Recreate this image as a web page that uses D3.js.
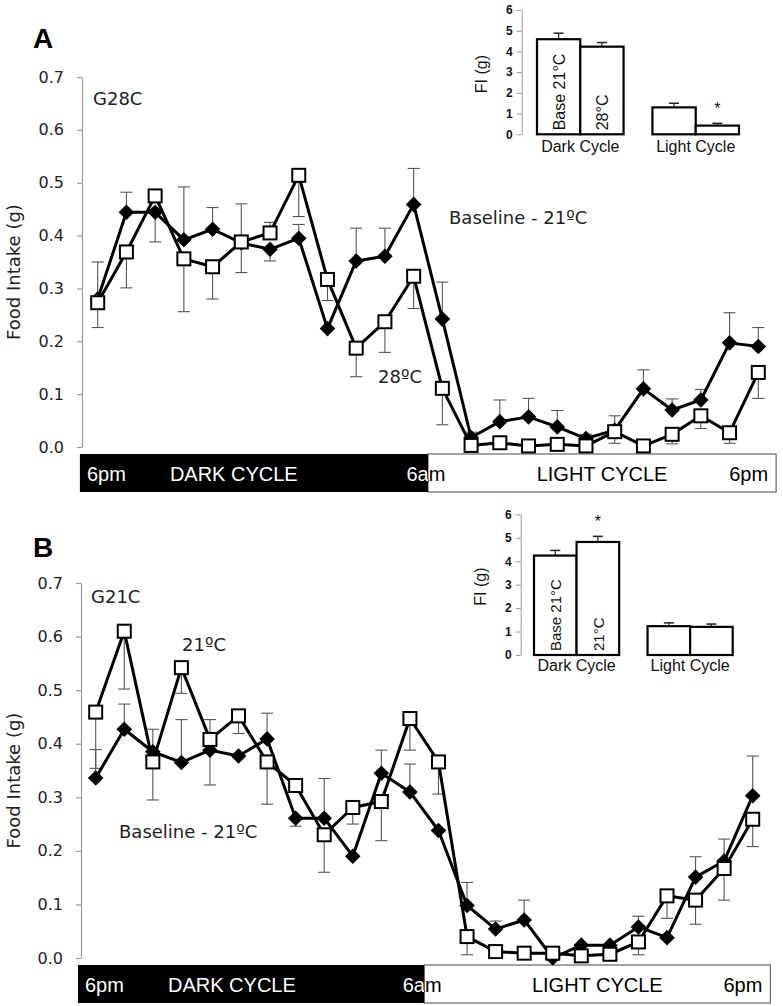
<!DOCTYPE html>
<html><head><meta charset="utf-8">
<script src="https://cdn.jsdelivr.net/npm/d3@7"></script>
<style>body{margin:0;background:#fff;} svg{display:block}</style>
</head><body>
<svg id="c" width="783" height="1006"></svg>
<script>
// ---------------- DATA ----------------
const hours = d3.range(24);             // 24 hourly bins starting at 6pm
const yTicks = [0, 0.1, 0.2, 0.3, 0.4, 0.5, 0.6, 0.7];
const insetTicks = [0, 1, 2, 3, 4, 5, 6];
const cycleLabels = ["6pm", "DARK CYCLE", "6am", "LIGHT CYCLE", "6pm"];
const insetGroups = ["Dark Cycle", "Light Cycle"];

// Panel A (G28C): baseline 21ºC (diamonds) vs 28ºC (squares)
const baseA     = [0.28,0.444,0.444,0.392,0.412,0.386,0.374,0.395,0.224,0.352,0.361,0.459,0.242,0.018,0.048,0.057,0.038,0.016,0.032,0.110,0.070,0.089,0.197,0.190];
const baseAUp   = [0.07,0.038,0,0.10,0.041,0.074,0,0.026,0,0.062,0.053,0.068,0.07,0.01,0.041,0.035,0.031,0.008,0,0.036,0.021,0.02,0.057,0.036];
const baseADown = [0,0,0.056,0,0,0,0.022,0,0,0,0,0,0,0,0,0,0,0,0,0,0,0,0,0];
const tempA     = [0.273,0.369,0.475,0.356,0.341,0.388,0.405,0.514,0.317,0.187,0.237,0.323,0.111,0.003,0.008,0.002,0.005,0.002,0.029,0.002,0.024,0.059,0.027,0.141];
const tempAUp   = [0,0,0,0,0,0,0.02,0,0,0,0,0,0,0,0,0,0,0,0.03,0,0,0,0,0];
const tempADown = [0.047,0.068,0,0.1,0.061,0.058,0,0.078,0.04,0.054,0.058,0.061,0.069,0,0,0,0,0,0.022,0,0.018,0.024,0.02,0.049];

// Panel B (G21C): baseline 21ºC (diamonds) vs 21ºC (squares)
const baseB     = [0.336,0.427,0.385,0.365,0.388,0.377,0.409,0.261,0.261,0.190,0.345,0.310,0.238,0.098,0.054,0.071,0.0,0.024,0.024,0.058,0.038,0.151,0.181,0.303];
const baseBUp   = [0.053,0.047,0.042,0.08,0,0,0.048,0,0.074,0,0.043,0.052,0,0.043,0.015,0.037,0,0,0,0.02,0,0.038,0.041,0.074];
const baseBDown = [0,0,0,0,0.065,0,0,0.015,0,0,0,0,0,0,0,0,0,0,0,0,0,0,0,0];
const tempB     = [0.459,0.610,0.366,0.542,0.408,0.452,0.366,0.322,0.230,0.281,0.292,0.447,0.366,0.040,0.012,0.009,0.009,0.004,0.007,0.030,0.116,0.108,0.167,0.259];
const tempBUp   = [0,0,0,0,0.037,0,0,0,0,0,0,0,0,0,0,0,0,0,0,0,0,0,0,0];
const tempBDown = [0.105,0.108,0.071,0.048,0,0.033,0.079,0,0.07,0.031,0.073,0.059,0.06,0.034,0,0,0,0,0,0.024,0.042,0.045,0.059,0.051];

// Insets: total food intake (g)
const insetABase = [4.59, 1.30], insetABaseErr = [0.29, 0.20];
const insetATemp = [4.23, 0.42], insetATempErr = [0.20, 0.11];
const insetASig  = [false, true];
const insetALabels = ["Base 21°C", "28°C"];
const insetBBase = [4.24, 1.23], insetBBaseErr = [0.22, 0.14];
const insetBTemp = [4.82, 1.20], insetBTempErr = [0.24, 0.12];
const insetBSig  = [true, false];
const insetBLabels = ["Base 21°C", "21°C"];

// ---------------- DRAW ----------------
const svg = d3.select("#c");
const MAINFONT = "'DejaVu Sans', sans-serif";
const ARIAL = "'Liberation Sans', Arial, sans-serif";

function drawPanel(cfg) {
  const g = svg.append("g");
  const x = d3.scalePoint().domain(hours).range([cfg.x0, cfg.x1]);
  const y = d3.scaleLinear().domain([0, 0.7]).range([cfg.yb, cfg.yt]);
  const step = x.step();

  // panel letter
  g.append("text").attr("x", 33).attr("y", cfg.letterY).text(cfg.letter)
    .attr("font-family", ARIAL).attr("font-weight", "bold").attr("font-size", 28);

  // y axis
  const ax = g.append("g").attr("transform", `translate(${cfg.axisX},0)`)
    .call(d3.axisLeft(y).tickValues(yTicks).tickFormat(d3.format(".1f")).tickSize(5).tickSizeOuter(0).tickPadding(13));
  ax.select(".domain").attr("stroke", "#999").attr("stroke-width", 1.2);
  ax.selectAll(".tick line").attr("stroke", "#999").attr("stroke-width", 1.2);
  ax.selectAll(".tick text").attr("font-family", MAINFONT).attr("font-size", 16).attr("fill", "#222");

  g.append("text").attr("transform", `translate(20,${(cfg.yb + cfg.yt) / 2 + 10}) rotate(-90)`)
    .attr("text-anchor", "middle").attr("font-family", MAINFONT).attr("font-size", 18).attr("fill", "#222")
    .text("Food Intake (g)");

  // cycle bar
  const bx0 = x(0) - 0.62 * step, bx1 = x(23) + 0.62 * step, bm = (x(11) + x(12)) / 2;
  const barTop = y(0) + 7, barH = 38;
  const id = cfg.letter;
  const defs = svg.append("defs");
  defs.append("clipPath").attr("id", "dark" + id).append("rect").attr("x", bx0).attr("y", barTop).attr("width", bm - bx0).attr("height", barH);
  defs.append("clipPath").attr("id", "light" + id).append("rect").attr("x", bm).attr("y", barTop).attr("width", bx1 - bm).attr("height", barH);
  g.append("rect").attr("x", bm).attr("y", barTop).attr("width", bx1 - bm).attr("height", barH)
    .attr("fill", "#fff").attr("stroke", "#666").attr("stroke-width", 1.2);
  g.append("rect").attr("x", bx0).attr("y", barTop).attr("width", bm - bx0).attr("height", barH).attr("fill", "#000");
  const tb = barTop + 27;
  const barTexts = [
    {t: cycleLabels[0], x: bx0 + 7, a: "start"},
    {t: cycleLabels[1], x: bx0 + 90, a: "start"},
    {t: cycleLabels[2], x: bm - 21.5, a: "start"},
    {t: cycleLabels[3], x: (bm + bx1) / 2 + 0, a: "middle"},
    {t: cycleLabels[4], x: bx1 - 8, a: "end"}
  ];
  ["dark", "light"].forEach(k => {
    g.append("g").attr("clip-path", `url(#${k}${id})`).selectAll("text").data(barTexts).join("text")
      .attr("x", d => d.x).attr("y", tb).attr("text-anchor", d => d.a)
      .attr("font-family", ARIAL).attr("font-size", 20).attr("fill", k === "dark" ? "#fff" : "#000")
      .text(d => d.t);
  });

  // error bars
  const eg = g.append("g").attr("stroke", "#555").attr("stroke-width", 1.1);
  function errBars(vals, up, down) {
    hours.forEach(i => {
      [[up[i], 1], [down[i], -1]].forEach(([e, s]) => {
        if (!e) return;
        const y0 = y(vals[i]), y1 = y(vals[i] + s * e);
        eg.append("line").attr("x1", x(i)).attr("x2", x(i)).attr("y1", y0).attr("y2", y1);
        eg.append("line").attr("x1", x(i) - 6).attr("x2", x(i) + 6).attr("y1", y1).attr("y2", y1);
      });
    });
  }
  errBars(cfg.base, cfg.baseUp, cfg.baseDown);
  errBars(cfg.temp, cfg.tempUp, cfg.tempDown);

  const line = d3.line().x((d, i) => x(i)).y(d => y(d));
  // baseline series (diamonds)
  g.append("path").datum(cfg.base).attr("d", line).attr("fill", "none").attr("stroke", "#000").attr("stroke-width", 3).attr("stroke-linejoin", "round");
  g.selectAll(".dia").data(cfg.base).join("path").attr("class", "dia")
    .attr("d", "M0,-7.8L7.8,0L0,7.8L-7.8,0Z")
    .attr("transform", (d, i) => `translate(${x(i)},${y(d)})`).attr("fill", "#000");
  // treatment series (squares)
  g.append("path").datum(cfg.temp).attr("d", line).attr("fill", "none").attr("stroke", "#000").attr("stroke-width", 3).attr("stroke-linejoin", "round");
  g.selectAll(".sq").data(cfg.temp).join("rect").attr("class", "sq")
    .attr("x", (d, i) => x(i) - 6.5).attr("y", d => y(d) - 6.5).attr("width", 13).attr("height", 13)
    .attr("fill", "#fff").attr("stroke", "#000").attr("stroke-width", 2);

  // annotations
  cfg.notes.forEach(n => {
    g.append("text").attr("x", n.x).attr("y", n.y).text(n.t)
      .attr("font-family", MAINFONT).attr("font-size", 18).attr("fill", "#222");
  });
}

function drawInset(cfg) {
  const g = svg.append("g");
  const y = d3.scaleLinear().domain([0, 6]).range([cfg.yb, cfg.yt]);
  const xg = d3.scaleBand().domain(insetGroups).range([cfg.x0, cfg.x1]).paddingInner(0.25);
  const xs = d3.scaleBand().domain([0, 1]).range([0, xg.bandwidth()]);

  const ax = g.append("g").attr("transform", `translate(${cfg.axisX},0)`)
    .call(d3.axisLeft(y).tickValues(insetTicks).tickFormat(d3.format("d")).tickSize(5).tickSizeOuter(0).tickPadding(4));
  ax.select(".domain").attr("stroke", "#999").attr("stroke-width", 1);
  ax.selectAll(".tick line").attr("stroke", "#999");
  ax.selectAll(".tick text").attr("font-family", ARIAL).attr("font-size", 12).attr("font-weight", "bold").attr("fill", "#111");

  g.append("text").attr("transform", `translate(${cfg.axisX - 35},${(cfg.yb + cfg.yt) / 2 + 2}) rotate(-90)`)
    .attr("text-anchor", "middle").attr("font-family", ARIAL).attr("font-size", 16).attr("fill", "#111").text("FI (g)");

  const series = [[cfg.base, cfg.baseErr], [cfg.temp, cfg.tempErr]];
  insetGroups.forEach((grp, gi) => {
    series.forEach(([vals, errs], si) => {
      const bx = xg(grp) + xs(si), bw = xs.bandwidth();
      const top = y(vals[gi]), et = y(vals[gi] + errs[gi]);
      g.append("line").attr("x1", bx + bw / 2).attr("x2", bx + bw / 2).attr("y1", top).attr("y2", et).attr("stroke", "#222").attr("stroke-width", 1.2);
      g.append("line").attr("x1", bx + bw / 2 - 5).attr("x2", bx + bw / 2 + 5).attr("y1", et).attr("y2", et).attr("stroke", "#222").attr("stroke-width", 1.5);
      g.append("rect").attr("x", bx).attr("y", top).attr("width", bw).attr("height", y(0) - top)
        .attr("fill", "#fff").attr("stroke", "#000").attr("stroke-width", 2.2);
      if (gi === 0) {
        g.append("text").attr("transform", `translate(${bx + bw / 2 + 6},${y(0) - 4}) rotate(-90)`)
          .attr("font-family", ARIAL).attr("font-size", cfg.inFont).attr("fill", "#111").text(cfg.labels[si]);
      }
      if (si === 1 && cfg.sig[gi]) {
        g.append("text").attr("x", bx + bw / 2).attr("y", et - 9).attr("text-anchor", "middle")
          .attr("font-family", ARIAL).attr("font-size", 16).attr("fill", "#111").text("*");
      }
    });
    g.append("text").attr("x", xg(grp) + xg.bandwidth() / 2).attr("y", cfg.labelY).attr("text-anchor", "middle")
      .attr("font-family", ARIAL).attr("font-size", 16).attr("fill", "#111").text(grp);
  });
}

drawPanel({
  letter: "A", letterY: 48, axisX: 82, x0: 97.7, x1: 758.3, yb: 447, yt: 77,
  base: baseA, baseUp: baseAUp, baseDown: baseADown, temp: tempA, tempUp: tempAUp, tempDown: tempADown,
  notes: [{t: "G28C", x: 93, y: 105}, {t: "Baseline - 21ºC", x: 449, y: 224}, {t: "28ºC", x: 378, y: 383}]
});
drawPanel({
  letter: "B", letterY: 557, axisX: 81, x0: 95.7, x1: 752.7, yb: 958, yt: 583,
  base: baseB, baseUp: baseBUp, baseDown: baseBDown, temp: tempB, tempUp: tempBUp, tempDown: tempBDown,
  notes: [{t: "G21C", x: 91, y: 603}, {t: "21ºC", x: 182, y: 651}, {t: "Baseline - 21ºC", x: 119, y: 838}]
});
drawInset({
  axisX: 521.7, x0: 537, x1: 739, yb: 134.3, yt: 10, labelY: 152, inFont: 16,
  base: insetABase, baseErr: insetABaseErr, temp: insetATemp, tempErr: insetATempErr, sig: insetASig, labels: insetALabels
});
drawInset({
  axisX: 520.7, x0: 534, x1: 732.7, yb: 655, yt: 514.3, labelY: 671, inFont: 15,
  base: insetBBase, baseErr: insetBBaseErr, temp: insetBTemp, tempErr: insetBTempErr, sig: insetBSig, labels: insetBLabels
});
</script>
</body></html>
